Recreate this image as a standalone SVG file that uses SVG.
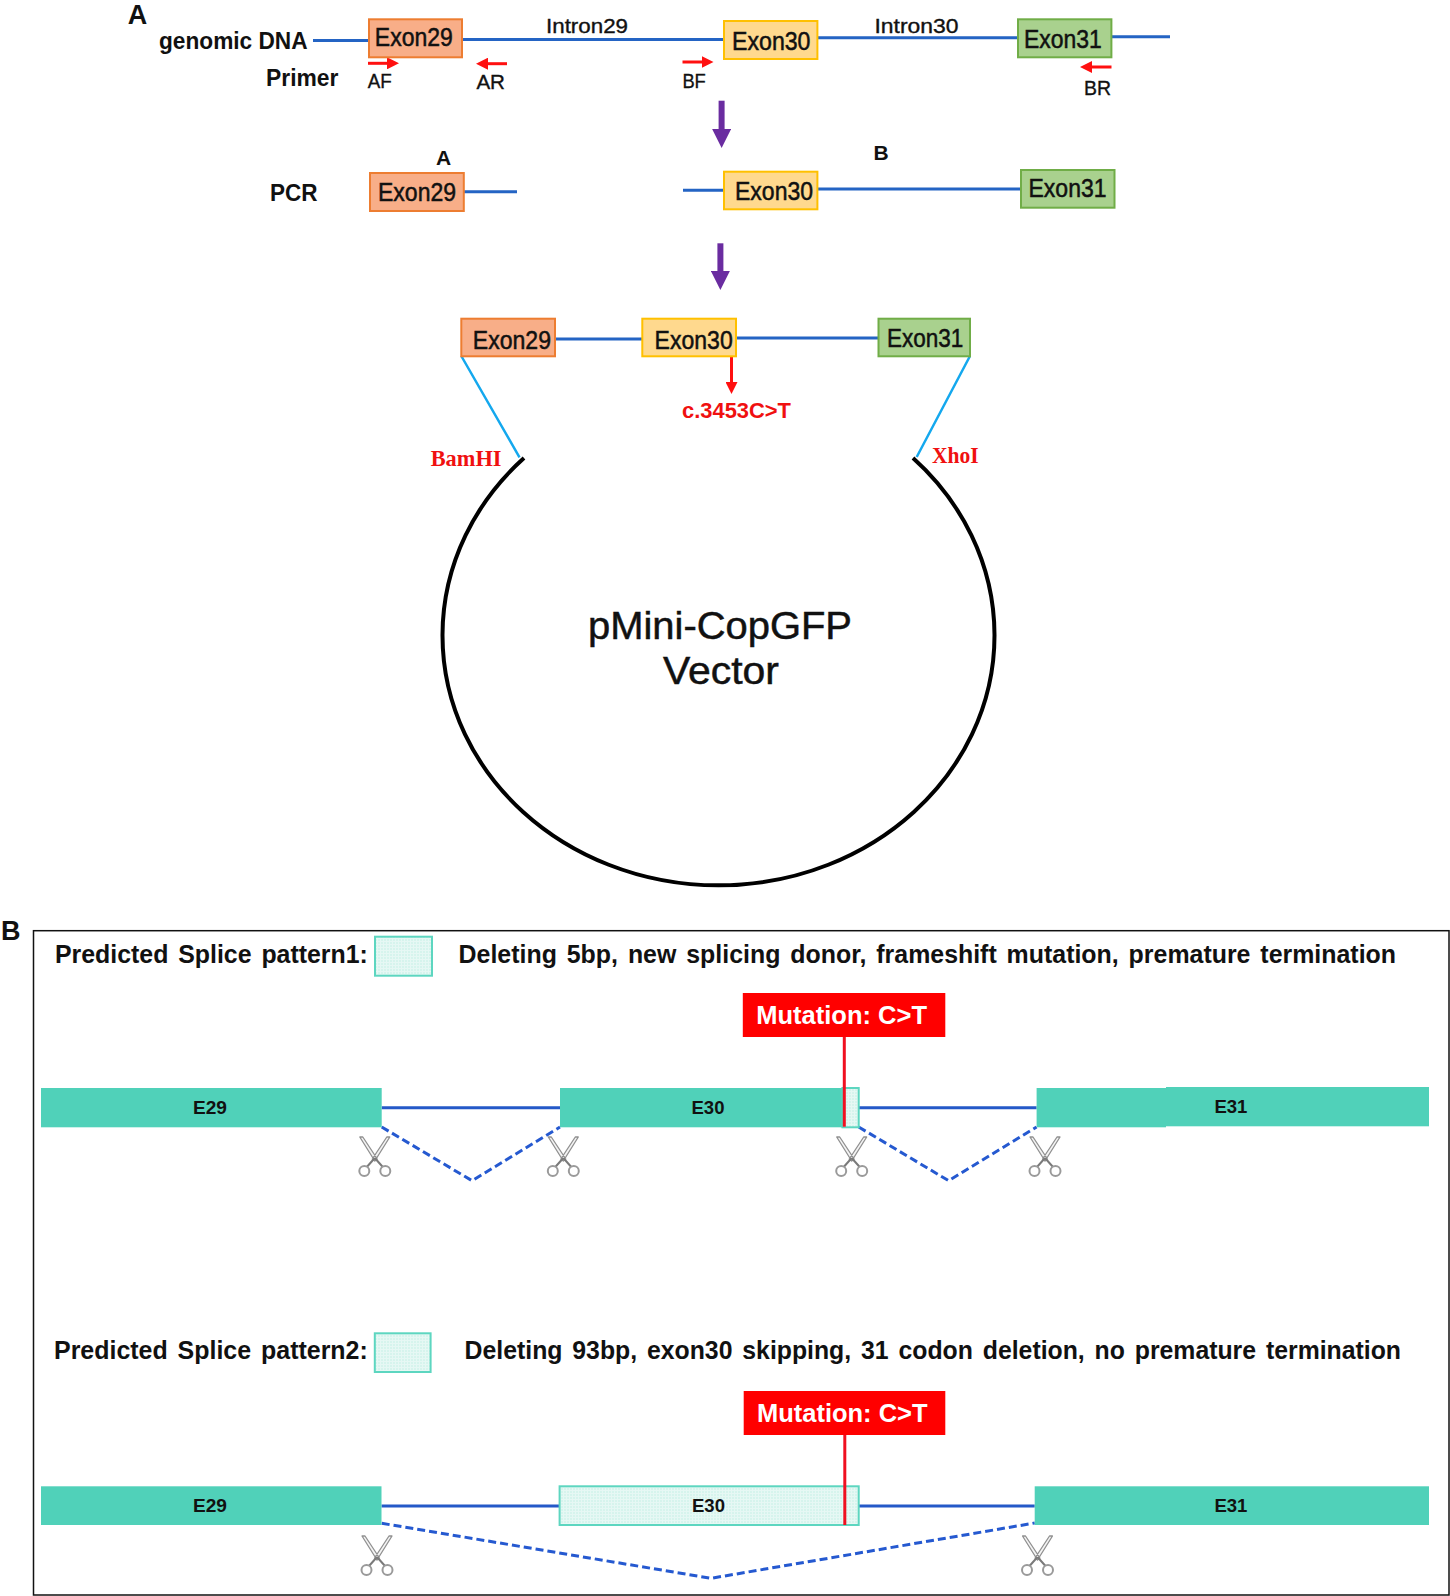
<svg xmlns="http://www.w3.org/2000/svg" xmlns:xlink="http://www.w3.org/1999/xlink" width="1450" height="1596" viewBox="0 0 1450 1596">
<style>
text{font-family:"Liberation Sans",Arial,sans-serif;fill:#111}
.b{font-weight:700}
.exl{font-size:25px;stroke:#111;stroke-width:.5px}
.pr{font-size:20px;stroke:#111;stroke-width:.35px}
.lab{font-size:23px;font-weight:700}
.hd{font-size:25px;font-weight:700}
.mut{font-size:26px;font-weight:700;fill:#fff}
.ex{font-size:19px;font-weight:700}
.sf{font-family:"Liberation Serif",serif;font-weight:700;fill:#f01010;font-size:23px}
.vec{font-size:38px;stroke:#111;stroke-width:.5px}
.e29{fill:#F8AE88;stroke:#ED7D31;stroke-width:2}
.e30{fill:#FFD98E;stroke:#FFC000;stroke-width:2}
.e31{fill:#A9D18E;stroke:#70AD47;stroke-width:2}
.bar{fill:#50D1B9}
.hatch{fill:url(#h);stroke:#5DD6C0;stroke-width:2}
.dna{stroke:#2464C4;stroke-width:3;fill:none}
.intr{stroke:#2559C8;stroke-width:3;fill:none}
.dash{stroke:#2559D0;stroke-width:3;fill:none;stroke-dasharray:8 4}
.red{stroke:#FF1010;stroke-width:3;fill:none}
.pur{stroke:#6A2CA0;stroke-width:6;fill:none}
.cy{stroke:#14A8EE;stroke-width:2.500;fill:none}
</style>
<defs>
<pattern id="h" width="3" height="3" patternUnits="userSpaceOnUse">
<rect width="3" height="3" fill="#E6F8F4"/>
<circle cx="1" cy="1" r=".8" fill="#C2EFE5"/>
</pattern>
<marker id="rh" markerUnits="userSpaceOnUse" markerWidth="13" markerHeight="12" refX="1" refY="6" orient="auto"><path d="M0 0L12 6L0 12Z" fill="#FF1010"/></marker>
<marker id="ph" markerUnits="userSpaceOnUse" markerWidth="20" markerHeight="19" refX="1" refY="9.500" orient="auto"><path d="M0 0L19 9.500L0 19Z" fill="#6A2CA0"/></marker>
<g id="sc">
<path d="M-15 -21L-12 -21L2.500 1L0 3Z M15 -21L12 -21L-2.500 1L0 3Z" fill="#f4f4f4" stroke="#909090" stroke-width="1.300" stroke-linejoin="round"/>
<path d="M0 0L-8 9M0 0L8 9" stroke="#7a7a7a" stroke-width="2" fill="none"/>
<circle cx="-10.500" cy="13" r="5" fill="#fff" stroke="#9a9a9a" stroke-width="2"/>
<circle cx="10.500" cy="13" r="5" fill="#fff" stroke="#9a9a9a" stroke-width="2"/>
</g>
</defs>
<rect width="1450" height="1596" fill="#fff"/>

<g id="connectors">
<path class="dna" d="M313 40.500H369M462 39.500H724M817 37.700H1018M1111 36.700H1170"/>
<path class="dna" d="M464 191.700H517M683 190.300H724M817 189H1021"/>
<path class="dna" d="M555 339H642M736 338H878.500"/>
<path class="red" marker-end="url(#rh)" d="M368 63.300H388"/>
<path class="red" marker-end="url(#rh)" d="M507 63.700H487"/>
<path class="red" marker-end="url(#rh)" d="M682.500 62H702.500"/>
<path class="red" marker-end="url(#rh)" d="M1111.500 67H1091"/>
<path class="red" marker-end="url(#rh)" d="M731.500 356V383"/>
<path class="pur" marker-end="url(#ph)" d="M721.600 100.700V130"/>
<path class="pur" marker-end="url(#ph)" d="M720.400 243.300V272"/>
<path class="cy" d="M461.300 356L519.500 457.300M970 356L916.700 457"/>
<path id="vector-ring" d="M524 458A276 250 0 1 0 913 458" fill="none" stroke="#000" stroke-width="4"/>
<path class="intr" d="M381.700 1107.700H560M858.700 1107.700H1036.600M381.500 1506H559.600M858.700 1506H1034.700"/>
<path class="dash" d="M381.700 1127L472 1180.700L560 1127M858.700 1127L948.600 1180.700L1036.600 1127M381.700 1523.300L711 1578.300L1034.700 1523"/>
</g>

<g id="labels-a">
<text class="b" x="127.700" y="24" font-size="27">A</text>
<text class="lab" x="159" y="49.300" textLength="148.600" lengthAdjust="spacingAndGlyphs">genomic DNA</text>
<text class="lab" x="266" y="86" textLength="72.400" lengthAdjust="spacingAndGlyphs">Primer</text>
<text class="pr" x="367.700" y="88" textLength="24" lengthAdjust="spacingAndGlyphs">AF</text>
<text class="pr" x="476.400" y="89.300" textLength="28.600" lengthAdjust="spacingAndGlyphs">AR</text>
<text class="pr" x="682.400" y="88" textLength="23.400" lengthAdjust="spacingAndGlyphs">BF</text>
<text class="pr" x="1084" y="95" textLength="27" lengthAdjust="spacingAndGlyphs">BR</text>
<text class="pr" x="546" y="33.300" textLength="82" lengthAdjust="spacingAndGlyphs">Intron29</text>
<text class="pr" x="874.500" y="33.300" textLength="84" lengthAdjust="spacingAndGlyphs">Intron30</text>
<text class="b" x="436" y="165" font-size="21">A</text>
<text class="b" x="873.500" y="160" font-size="21">B</text>
<text class="lab" x="270" y="201.300" textLength="47.500" lengthAdjust="spacingAndGlyphs">PCR</text>
<text x="682" y="417.700" font-size="22" class="b" style="fill:#F01010" textLength="109" lengthAdjust="spacingAndGlyphs">c.3453C&gt;T</text>
<text class="sf" x="430.700" y="466" textLength="70.800" lengthAdjust="spacingAndGlyphs">BamHI</text>
<text class="sf" x="932" y="462.700" textLength="46.700" lengthAdjust="spacingAndGlyphs">XhoI</text>
</g>

<g id="genomic-exon29"><rect class="e29" x="369" y="19.300" width="93" height="38"/><text class="exl" x="374.800" y="46" textLength="78" lengthAdjust="spacingAndGlyphs">Exon29</text></g>
<g id="genomic-exon30"><rect class="e30" x="724" y="21" width="93.400" height="38"/><text class="exl" x="732" y="50" textLength="78.500" lengthAdjust="spacingAndGlyphs">Exon30</text></g>
<g id="genomic-exon31"><rect class="e31" x="1018" y="19.300" width="93.400" height="38"/><text class="exl" x="1024" y="48" textLength="77.800" lengthAdjust="spacingAndGlyphs">Exon31</text></g>

<g id="pcr-exon29"><rect class="e29" x="370" y="173" width="93.800" height="38"/><text class="exl" x="378" y="201.300" textLength="78" lengthAdjust="spacingAndGlyphs">Exon29</text></g>
<g id="pcr-exon30"><rect class="e30" x="724" y="171.700" width="93.400" height="37.600"/><text class="exl" x="735" y="200" textLength="78" lengthAdjust="spacingAndGlyphs">Exon30</text></g>
<g id="pcr-exon31"><rect class="e31" x="1021" y="170" width="93.500" height="37.700"/><text class="exl" x="1028.500" y="196.700" textLength="78" lengthAdjust="spacingAndGlyphs">Exon31</text></g>

<g id="insert-exon29"><rect class="e29" x="461.300" y="318.700" width="93.700" height="37.600"/><text class="exl" x="472.800" y="349" textLength="78.200" lengthAdjust="spacingAndGlyphs">Exon29</text></g>
<g id="insert-exon30"><rect class="e30" x="642.300" y="318.700" width="93.700" height="37.600"/><text class="exl" x="654.600" y="349" textLength="78.100" lengthAdjust="spacingAndGlyphs">Exon30</text></g>
<g id="insert-exon31"><rect class="e31" x="878.500" y="318.700" width="91.500" height="37.600"/><text class="exl" x="887" y="346.700" textLength="76.400" lengthAdjust="spacingAndGlyphs">Exon31</text></g>

<g id="vector">
<text class="vec" x="588" y="639" textLength="264" lengthAdjust="spacingAndGlyphs">pMini-CopGFP</text>
<text class="vec" x="663" y="684" textLength="116" lengthAdjust="spacingAndGlyphs">Vector</text>
</g>

<g id="panel-b">
<text class="b" x="1" y="940" font-size="27">B</text>
<rect x="33.500" y="930.700" width="1415.500" height="664.300" fill="none" stroke="#111" stroke-width="1.500"/>
</g>

<g id="pattern1">
<text class="hd" x="55" y="963.300" word-spacing="3" textLength="312.800" lengthAdjust="spacingAndGlyphs">Predicted Splice pattern1:</text>
<rect class="hatch" x="375" y="936.700" width="57" height="39"/>
<text class="hd" x="458.600" y="963.300" word-spacing="3" textLength="937.400" lengthAdjust="spacingAndGlyphs">Deleting 5bp, new splicing donor, frameshift mutation, premature termination</text>
</g>
<g id="p1-e29"><rect class="bar" x="41" y="1088" width="340.700" height="39.300"/><text class="ex" x="193" y="1114" textLength="34" lengthAdjust="spacingAndGlyphs">E29</text></g>
<g id="p1-e30"><rect class="bar" x="560" y="1088" width="282.400" height="39.300"/><rect class="hatch" x="842.400" y="1088" width="16.300" height="39.300"/><text class="ex" x="691.500" y="1114" textLength="33" lengthAdjust="spacingAndGlyphs">E30</text></g>
<g id="p1-e31"><rect class="bar" x="1036.600" y="1088" width="129.400" height="39.300"/><rect class="bar" x="1166" y="1087" width="263" height="39.300"/><text class="ex" x="1214.400" y="1113" textLength="33" lengthAdjust="spacingAndGlyphs">E31</text></g>
<g id="p1-mutation"><rect x="742.800" y="993" width="202.500" height="44" fill="#FF0000"/><path d="M844.300 1037V1126.700" stroke="#F01020" stroke-width="3"/><text class="mut" x="756.300" y="1024" textLength="170.700" lengthAdjust="spacingAndGlyphs">Mutation: C&gt;T</text></g>
<g id="p1-scissors">
<use xlink:href="#sc" x="374.800" y="1158"/>
<use xlink:href="#sc" x="563.300" y="1158"/>
<use xlink:href="#sc" x="851.700" y="1158"/>
<use xlink:href="#sc" x="1045" y="1158"/>
</g>

<g id="pattern2">
<text class="hd" x="54" y="1359.300" word-spacing="3" textLength="313.800" lengthAdjust="spacingAndGlyphs">Predicted Splice pattern2:</text>
<rect class="hatch" x="374.800" y="1333.300" width="55.800" height="38.700"/>
<text class="hd" x="464.600" y="1359.300" word-spacing="3" textLength="936.400" lengthAdjust="spacingAndGlyphs">Deleting 93bp, exon30 skipping, 31 codon deletion, no premature termination</text>
</g>
<g id="p2-e29"><rect class="bar" x="41" y="1486.300" width="340.500" height="38.700"/><text class="ex" x="193" y="1512.300" textLength="34" lengthAdjust="spacingAndGlyphs">E29</text></g>
<g id="p2-e30"><rect class="hatch" x="559.600" y="1486.300" width="299.100" height="38.700"/><text class="ex" x="692" y="1512.300" textLength="33" lengthAdjust="spacingAndGlyphs">E30</text></g>
<g id="p2-e31"><rect class="bar" x="1034.700" y="1486.300" width="394.300" height="38.700"/><text class="ex" x="1214.400" y="1512.300" textLength="33" lengthAdjust="spacingAndGlyphs">E31</text></g>
<g id="p2-mutation"><rect x="743.700" y="1391" width="201.600" height="44" fill="#FF0000"/><path d="M844.800 1435V1525" stroke="#F01020" stroke-width="3"/><text class="mut" x="757" y="1422" textLength="170.500" lengthAdjust="spacingAndGlyphs">Mutation: C&gt;T</text></g>
<g id="p2-scissors">
<use xlink:href="#sc" x="377" y="1557"/>
<use xlink:href="#sc" x="1037.500" y="1557"/>
</g>
</svg>
